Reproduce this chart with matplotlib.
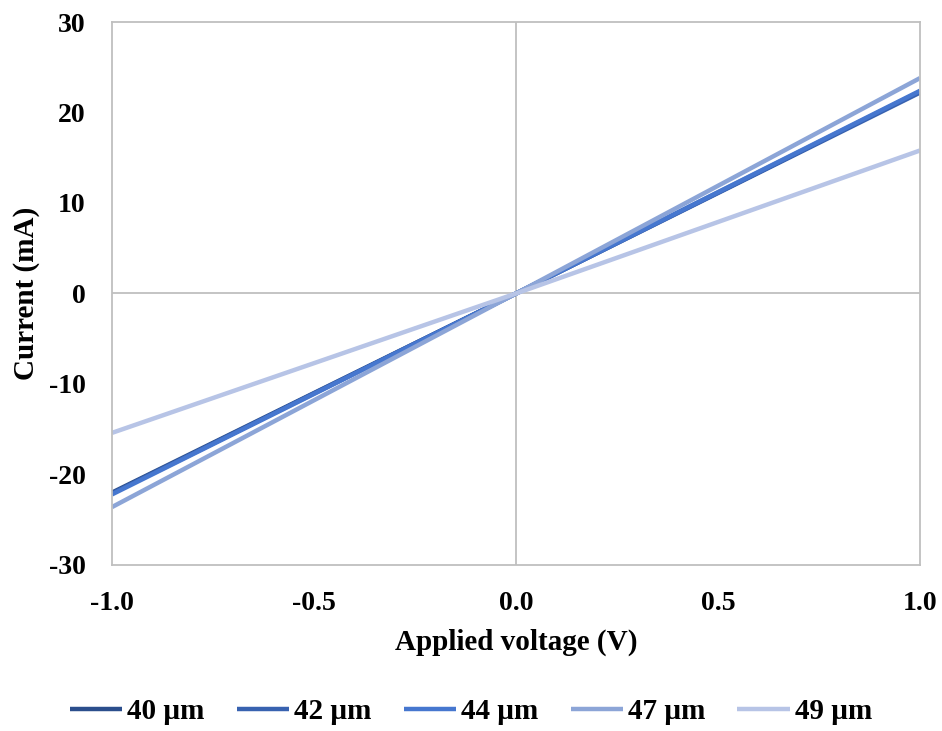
import matplotlib.pyplot as plt

plt.rcParams['font.family'] = ['Liberation Serif', 'DejaVu Serif']
plt.rcParams['font.weight'] = 'bold'

voltage = [-1.0, 0.0, 1.0]
labels = ['40 µm', '42 µm', '44 µm', '47 µm', '49 µm']
current = {
    '40 µm': [-22.0, 0.0, 22.3],
    '42 µm': [-22.1, 0.0, 22.2],
    '44 µm': [-22.2, 0.0, 22.4],
    '47 µm': [-23.6, 0.0, 23.8],
    '49 µm': [-15.4, 0.0, 15.8],
}
colors = ['#2B4E8C', '#3862B0', '#4677CF', '#8CA5D7', '#B7C4E6']

fig = plt.figure(figsize=(9.42, 7.31), dpi=100)
ax = fig.add_axes([0.1189, 0.2271, 0.8577, 0.7428])

for name, c in zip(labels, colors):
    ax.plot(voltage, current[name], color=c, lw=3.2, label=name,
            solid_capstyle='butt')

ax.axhline(0, color='#BFBFBF', lw=1.3, zorder=0)
ax.axvline(0, color='#BFBFBF', lw=1.3, zorder=0)

ax.set_xlim(-1, 1)
ax.set_ylim(-30, 30)
ax.set_xticks([-1.0, -0.5, 0.0, 0.5, 1.0])
ax.set_xticklabels(['-1.0', '-0.5', '0.0', '0.5', '1.0'])
ax.set_yticks([-30, -20, -10, 0, 10, 20, 30])
ax.set_yticklabels(['-30', '-20', '-10', '0', '10', '20', '30'])
ax.tick_params(length=0, labelsize=20)
ax.tick_params(axis='x', pad=19)
ax.tick_params(axis='y', pad=19)
for s in ax.spines.values():
    s.set_color('#BFBFBF')
    s.set_linewidth(1.3)

ax.set_xlabel('Applied voltage (V)', fontsize=21, fontweight='bold', labelpad=9)
ax.set_ylabel('Current (mA)', fontsize=21, fontweight='bold', labelpad=6)

fig.legend(loc='lower center', bbox_to_anchor=(0.5, -0.028), ncol=5,
           frameon=False, fontsize=21, handlelength=1.8, handletextpad=0.17,
           columnspacing=1.1)

fig.savefig('out.png', dpi=100)
